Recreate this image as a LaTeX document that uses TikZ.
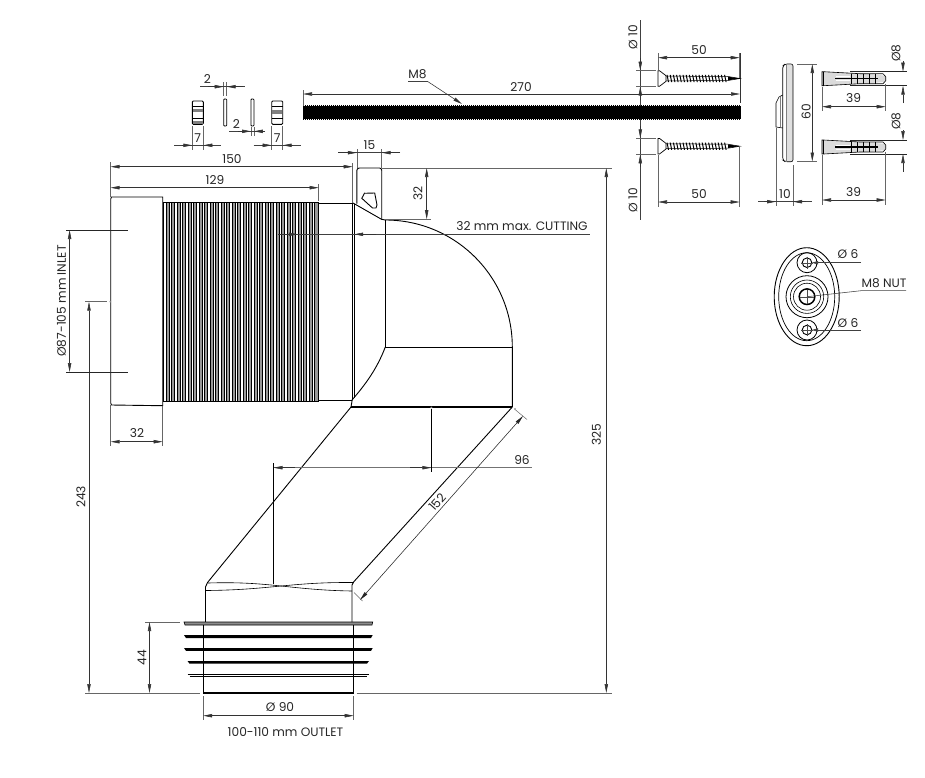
\documentclass[tikz,border=0pt]{standalone}
\usepackage{fontspec}
\setmainfont{Poppins}
\usetikzlibrary{arrows.meta,calc}
\tikzset{
  dimline/.style={draw=black!75,line width=0.55pt},
  extline/.style={draw=black!60,line width=0.5pt},
  darrow/.style={-{Triangle[length=9pt,width=3.4pt]},draw=black!80,line width=0.55pt},
  ddarrow/.style={{Triangle[length=9pt,width=3.4pt]}-{Triangle[length=9pt,width=3.4pt]},draw=black!80,line width=0.55pt},
  body/.style={draw=black,line width=0.9pt},
  thin body/.style={draw=black,line width=0.6pt},
  lbl/.style={inner sep=0pt,font=\fontsize{12.2}{14}\selectfont,text=black!85},
}
\newcommand{\myscrew}[1]{%
  \begin{scope}[shift={(0,#1)}]
    \draw[body,line width=0.7pt] (658,-7.8) -- (659.5,-7.8) -- (666,-2.8) -- (666,2.8) -- (659.5,7.8) -- (658,7.8) -- cycle;
    \draw[black,line width=0.5pt] (666,-2.4) -- (728,-2) -- (740,0) -- (728,2) -- (666,2.4);
    \fill[black] (728,-1.8) -- (740,0) -- (728,1.8) -- cycle;
    \foreach \q in {667,670.2,...,727}{\draw[black,line width=1pt] (\q,-3.6) -- (\q+1.5,3.6);}
  \end{scope}}
\newcommand{\myplug}[1]{%
  \begin{scope}[shift={(0,#1)}]
    \fill[black!14] (822,-7) -- (860,-5.5) -- (885.7,-3) -- (885.7,3) -- (860,5.5) -- (822,7) -- cycle;
    \draw[thin body] (822,-7) -- (823.5,-7) -- (860,-5) -- (883,-5) -- (885.7,-2) -- (885.7,2) -- (883,5) -- (860,5) -- (823.5,7) -- (822,7) -- cycle;
    \draw[black,line width=0.8pt] (823.5,-7) -- (823.5,7);
    \draw[black,line width=1.3pt] (835,0) -- (878,0);
    \foreach \q in {851,857,863,869,875}{\draw[black,line width=0.8pt] (\q,-5) -- (\q,5);}
    \draw[white,line width=0.9pt] (836,-2) -- (850,-2) (836,2) -- (850,2);
  \end{scope}}
\begin{document}
\begin{tikzpicture}[x=1pt,y=-1pt]
\useasboundingbox (0,0) rectangle (925,777);
\fill[white] (0,0) rectangle (925,777);

% ---- main pipe: corrugated part
\fill[black!40] (163,202) rectangle (319,401);
\foreach \q in {163,168.5,...,316}{
  \fill[white] (\q+0.6,202.5) rectangle (\q+3,400.5);
  \draw[black,line width=0.55pt] (\q+0.4,202) -- (\q+0.4,401) (\q+3.2,202) -- (\q+3.2,401);
}
\draw[black,line width=0.6pt] (163,201.8) -- (319,201.8) (163,400.8) -- (319,400.8);
\draw[black,line width=0.6pt] (318.6,201.8) -- (318.6,400.8);

% inlet cuff
\draw[body] (110.7,199) -- (111.5,197) -- (162.7,197) -- (162.7,405.7) -- (111.5,405) -- (110.7,403) -- cycle;

% smooth sleeve
\draw[body] (319,203) -- (352.5,203) (319,400) -- (352,400);
\draw[body] (352.3,203) -- (352.3,400);
\draw[black,line width=0.7pt] (354.2,204) -- (354.2,398);

% flange
\draw[body] (356.8,203.5) -- (356.8,170.5) arc[start angle=180,end angle=270,radius=2.5] -- (379.5,168) arc[start angle=270,end angle=360,radius=2.2] -- (381.7,219);
\draw[body] (353,203) -- (381.5,219.3) -- (385.3,220);
\draw[body] (361.8,198.3) -- (364.5,193.2) arc[start angle=270,end angle=290,radius=1] -- (374.7,193) -- (377,205) -- (376,208) -- (372.5,208) -- cycle;

% elbow
\draw[body] (385.3,220) arc[start angle=-90,end angle=0,radius=127] -- (512.3,407);
\draw[body] (385.3,220) -- (385.3,347) -- (512.3,347);
\draw[body] (385.3,347) .. controls (377,369) and (365,385) .. (352,400);
\draw[body,line width=1.1pt] (351,407) -- (512.3,407);
\draw[body] (351,407) -- (352.2,400);

% offset
\draw[body] (351,407) -- (207.5,582.5) -- (205.5,587) -- (205.5,622);
\draw[body] (512.3,407) -- (354,581.5) -- (352,585) -- (352,622);
\draw[thin body] (208,583) .. controls (270,581) and (290,590) .. (352,591);
\draw[thin body] (205.5,590.5) .. controls (270,590) and (290,582) .. (353,582.5);

% outlet
\fill[black!45] (184,622) -- (372.7,622) -- (372,625) -- (185,625) -- cycle;
\draw[thin body] (184,622) -- (372.7,622) -- (372,625) -- (185,625) -- cycle;
\draw[body] (203.2,625) -- (203.2,692.8);
\draw[body] (353.7,625) -- (353.7,692.8);
\draw[body,line width=1.5pt] (203.2,693) -- (353.7,693);
\fill[black] (184,635) -- (372.7,635) -- (371,638) -- (186,638) -- cycle;
\fill[black] (184,648) -- (372.7,648) -- (371,650.8) -- (186,650.8) -- cycle;
\fill[black] (187.5,661) -- (369,661) -- (367,663.6) -- (189.5,663.6) -- cycle;
\draw[thin body] (187.5,674.6) -- (369,674.6);
\draw[black,line width=1.1pt] (189.5,676.6) -- (367,676.6);

% ---- dimensions of the main view
% 150
\draw[extline] (110.5,162) -- (110.5,197) (352.7,163) -- (352.7,203);
\draw[ddarrow] (110.5,166.7) -- (352.7,166.7);
\node[lbl] (t150) at (232,159.5) {150};
% 129
\draw[extline] (318.7,184) -- (318.7,201);
\draw[ddarrow] (110.5,187.7) -- (318.7,187.7);
\node[lbl] (t129) at (215,180.5) {129};
% 15
\draw[extline] (356.8,149) -- (356.8,168) (381.7,149) -- (381.7,168);
\draw[dimline] (338,152.7) -- (400,152.7);
\draw[darrow] (338,152.7) -- (356.8,152.7);
\draw[darrow] (400,152.7) -- (381.7,152.7);
\node[lbl] (t15) at (369.5,145) {15};
% 32 flange
\draw[extline] (381.7,168) -- (612,168);
\draw[extline] (385.3,219.2) -- (431,219.2);
\draw[ddarrow] (426.7,168) -- (426.7,219.2);
\node[lbl,rotate=90] (t32r) at (418,193.5) {32};
% cutting
\draw[dimline] (278,234.3) -- (590,234.3);
\draw[darrow] (278,234.3) -- (298,234.3);
\draw[darrow] (376,234.3) -- (354.2,234.3);
\node[lbl] (tcut) at (522,226.5) {32 mm max. CUTTING};
% 325
\draw[extline] (356.5,693) -- (612,693);
\draw[ddarrow] (606.3,168) -- (606.3,693);
\node[lbl,rotate=90] (t325) at (596.5,435) {325};
% 243
\draw[extline] (85,301.7) -- (107,301.7);
\draw[extline] (85,693) -- (200,693);
\fill[black!45] (110.2,301.7) circle (0.9);
\draw[ddarrow] (89,301.7) -- (89,693);
\node[lbl,rotate=90] (t243) at (81,497) {243};
% inlet
\draw[extline,draw=black!85] (66,230) -- (128,230) (66,372) -- (128,372);
\draw[ddarrow] (69.6,230) -- (69.6,372);
\node[lbl,rotate=90] (tinlet) at (61.5,301) {Ø87-105 mm INLET};
% 32 bottom
\draw[extline] (110.7,405) -- (110.7,445.5) (162.7,405.7) -- (162.7,445.5);
\draw[ddarrow] (110.7,441.7) -- (162.7,441.7);
\node[lbl] (t32b) at (137,433) {32};
% 96
\draw[dimline,draw=black!55] (273.5,467.7) -- (532,467.7);
\draw[darrow] (295,467.7) -- (273.5,467.7);
\draw[darrow] (410,467.7) -- (431.3,467.7);
\draw[dimline,draw=black] (431.3,409) -- (431.3,472);
\fill[black!40] (431.3,407.5) circle (1);
\draw[dimline,draw=black] (273.5,463) -- (273.5,584);
\node[lbl] (t96) at (522,460) {96};
% 152
\draw[extline] (515,409.5) -- (527,419.5);
\draw[extline] (354,592.5) -- (362.5,601);
\fill[black!40] (515,409) circle (1.2);
\draw[ddarrow,draw=black!85] (523,416) -- (360,600);
\node[lbl,rotate=48] (t152) at (437.2,502) {152};
% 44
\draw[extline] (145,622) -- (180,622);
\draw[ddarrow] (149.5,622) -- (149.5,693);
\node[lbl,rotate=90] (t44) at (142,657.5) {44};
% O90
\draw[extline] (203.2,696) -- (203.2,719.5) (353.7,696) -- (353.7,719.5);
\draw[ddarrow] (203.2,715.7) -- (353.7,715.7);
\node[lbl] (t90) at (280,707.5) {Ø 90};
\node[lbl] (toutlet) at (285.5,732.5) {100-110 mm OUTLET};

% ---- nuts and washers
\foreach \xa in {192.3,271.7}{
  \draw[black,line width=0.9pt,rounded corners=1pt] (\xa,101) rectangle (\xa+11,124.3);
}
\fill[black!50] (192.8,109) rectangle (202.8,112);
\fill[black!50] (192.8,121) rectangle (202.8,124);
\draw[black,line width=0.5pt] (193,106) -- (203,106) (193,118) -- (203,118);
\draw[black,line width=0.7pt] (272,106) -- (282.5,106) (272,118) -- (282.5,118);
\fill[black!50] (272.2,110) rectangle (282.2,114);
\draw[black,line width=0.8pt,rounded corners=0.8pt] (223.7,99) rectangle (226.7,126);
\draw[black,line width=0.8pt,rounded corners=0.8pt] (251,99) rectangle (253.9,126);
% 2 upper
\draw[extline] (223.7,82) -- (223.7,96) (226.7,82) -- (226.7,96);
\draw[dimline] (200,86.7) -- (245,86.7);
\draw[darrow] (208,86.7) -- (223.7,86.7);
\draw[darrow] (243,86.7) -- (226.7,86.7);
\node[lbl] (t2a) at (207.5,79) {2};
% 2 lower
\draw[extline] (251,127) -- (251,135.5) (253.9,127) -- (253.9,135.5);
\draw[dimline] (229,131.3) -- (264,131.3);
\draw[darrow] (238,131.3) -- (251,131.3);
\draw[darrow] (265,131.3) -- (253.9,131.3);
\node[lbl] (t2b) at (236.5,124.5) {2};
% 7s
\foreach \xa/\lab in {192.3/a,271.7/b}{
  \draw[extline] (\xa,126) -- (\xa,149.5) (\xa+11,126) -- (\xa+11,149.5);
  \draw[dimline] (\xa-18,145.3) -- (\xa+29,145.3);
  \draw[darrow] (\xa-10,145.3) -- (\xa,145.3);
  \draw[darrow] (\xa+21,145.3) -- (\xa+11,145.3);
}
\node[lbl] (t7a) at (197.8,138.5) {7};
\node[lbl] (t7b) at (277.2,138.5) {7};

% ---- threaded rod
\draw[dimline] (640.3,20) -- (640.3,220);
\draw[black,line width=13.3pt,line cap=butt] (303,112.7) -- (740.5,112.7);
\draw[black,line width=1pt,dash pattern=on 1pt off 1pt] (303,105.6) -- (740.5,105.6) (303,119.8) -- (740.5,119.8);
\draw[extline] (303,90) -- (303,106);
\draw[extline,draw=black!80] (740,53) -- (740,103);
\draw[ddarrow] (303,94) -- (740,94);
\node[lbl] (t270) at (521,87) {270};
\node[lbl] (tm8) at (417.5,74) {M8};
\draw[dimline] (408,81.7) -- (428,81.7);
\draw[darrow] (428,81.7) -- (462,104);

% ---- screws
\myscrew{78.5}
\myscrew{146.2}
\draw[extline] (636,70.7) -- (656,70.7) (636,86.5) -- (656,86.5);
\draw[extline] (636,138.3) -- (656,138.3) (636,154.3) -- (656,154.3);
\draw[darrow] (640.3,58) -- (640.3,70.7);
\draw[darrow] (640.3,100) -- (640.3,86.5);
\draw[darrow] (640.3,126) -- (640.3,138.3);
\draw[darrow] (640.3,167) -- (640.3,154.3);
\node[lbl,rotate=90] (td1) at (633,37) {Ø 10};
\node[lbl,rotate=90] (td2) at (633,200) {Ø 10};
\draw[extline] (658,53) -- (658,70) (739.7,53) -- (739.7,78);
\draw[ddarrow] (658,57.7) -- (739.7,57.7);
\node[lbl] (t50a) at (699,50) {50};
\draw[extline] (658,155) -- (658,207) (739.7,146) -- (739.7,207);
\draw[ddarrow] (658,202) -- (739.7,202);
\node[lbl] (t50b) at (699,194.5) {50};

% ---- rosette side view
\fill[black!12] (787,64.5) rectangle (793,161.5);
\draw[thin body,rounded corners=2pt] (793,64) -- (785,64) -- (782.7,66) -- (782.7,160) -- (785,161.7) -- (793,161.7) -- cycle;
\draw[thin body] (782.7,95) -- (779,97) -- (776,103) -- (776,127);
\draw[thin body] (776,127) -- (782.7,128);
\draw[black!50,line width=0.5pt] (786.5,64.5) -- (786.5,161.5) (780,97) -- (780,127);
\draw[extline] (797,64) -- (817,64) (797,161.5) -- (817,161.5);
\draw[ddarrow] (812.3,64) -- (812.3,161.5);
\node[lbl,rotate=90] (t60) at (806,112) {60};
\draw[extline] (776,128) -- (776,205.5) (793,165) -- (793,205.5);
\draw[dimline] (758,201.7) -- (812,201.7);
\draw[darrow] (764,201.7) -- (776,201.7);
\draw[darrow] (806,201.7) -- (793,201.7);
\node[lbl] (t10) at (785,194.5) {10};

% ---- plugs
\myplug{78.7}
\myplug{147}
\draw[extline,draw=black!85] (850,71.7) -- (907,71.7) (850,85.7) -- (907,85.7);
\draw[extline,draw=black!85] (850,140) -- (907,140) (850,154) -- (907,154);
\draw[darrow] (903,61) -- (903,71.7);
\draw[darrow] (903,103) -- (903,85.7);
\draw[darrow] (903,130) -- (903,140);
\draw[darrow] (903,171.7) -- (903,154);
\node[lbl,rotate=90] (tp1) at (896,53) {Ø8};
\node[lbl,rotate=90] (tp2) at (896,121) {Ø8};
\draw[extline] (822,87) -- (822,110.5) (885.7,84) -- (885.7,110.5);
\draw[ddarrow] (822,106.7) -- (885.7,106.7);
\node[lbl] (t39a) at (853.5,98.5) {39};
\draw[extline] (822,155) -- (822,205) (885.7,152) -- (885.7,205);
\draw[ddarrow] (822,200) -- (885.7,200);
\node[lbl] (t39b) at (853.5,192.5) {39};

% ---- rosette front view
\draw[black,line width=0.9pt] (806.7,296.7) ellipse [x radius=32.5,y radius=49];
\draw[black,line width=0.7pt] (806.7,296.7) ellipse [x radius=28,y radius=44];
\foreach \yy in {262.7,330}{
  \draw[black,line width=0.8pt] (807,\yy) circle (10);
  \draw[black,line width=0.9pt] (807,\yy) circle (4.8);
  \draw[black!70,line width=0.4pt] (801,\yy) -- (813,\yy) (807,\yy-6) -- (807,\yy+6);
}
\draw[black,line width=0.8pt] (807,296.7) circle (21);
\draw[black,line width=0.6pt] (807,296.7) circle (16.7);
\draw[black,line width=0.6pt] (807,296.7) circle (13.5);
\draw[black,line width=1.5pt] (807,296.7) circle (7.8);
\draw[black!70,line width=0.4pt] (800,296.7) -- (814,296.7) (807,289.7) -- (807,303.7);
\draw[black!75,line width=0.6pt,-{Triangle[length=6pt,width=3.4pt]}] (861,262.7) -- (812,262.7);
\draw[black!75,line width=0.6pt,-{Triangle[length=6pt,width=3.4pt]}] (861,330) -- (812,330);
\node[lbl] (t6a) at (848,254.5) {Ø 6};
\node[lbl] (t6b) at (848,323) {Ø 6};
\node[lbl] (tnut) at (884,283.5) {M8 NUT};
\draw[dimline] (906,290.7) -- (861,290.7) -- (807,296.7);
\end{tikzpicture}
\end{document}
